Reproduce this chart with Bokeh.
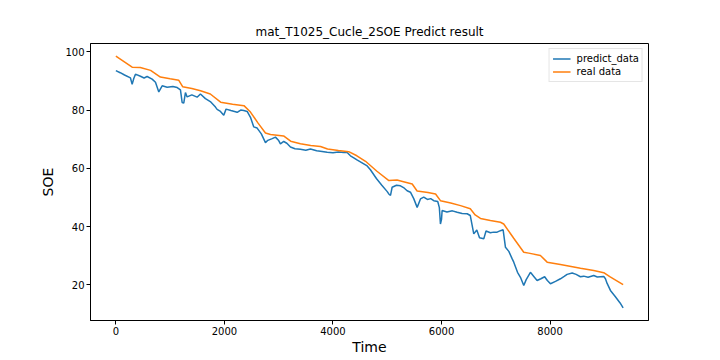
from bokeh.plotting import figure
from bokeh.models import Range1d, FixedTicker, Legend, LegendItem
from bokeh.embed import file_html
from bokeh.resources import INLINE

# ---- data ----
real_t = [0, 150, 300, 450, 640, 820, 1000, 1160, 1230, 1400, 1560, 1740, 1930, 2150,
          2360, 2480, 2620, 2756, 2850, 3090, 3220, 3400, 3590, 3770, 3900, 4100, 4290,
          4440, 4600, 4810, 5030, 5180, 5300, 5460, 5550, 5750, 5890, 5980, 6170, 6350,
          6530, 6620, 6717, 6900, 7085, 7146, 7330, 7515, 7607, 7822, 7946, 8190, 8314,
          8560, 8804, 8989, 9100, 9230, 9346]
real_v = [98.5, 96.6, 94.7, 94.6, 93.6, 91.3, 90.7, 90.2, 88.0, 87.4, 86.6, 85.5, 82.7, 82.0,
          81.5, 79.3, 75.5, 72.1, 71.6, 71.1, 69.3, 68.4, 67.8, 67.5, 66.6, 66.1, 65.7,
          64.3, 62.4, 59.0, 55.8, 56.0, 55.4, 54.6, 52.2, 51.7, 51.2, 48.9, 48.1, 47.2,
          46.1, 44.0, 42.8, 42.1, 41.5, 40.9, 36.0, 31.2, 30.9, 30.1, 27.8, 27.0, 26.6,
          25.7, 24.9, 24.2, 22.8, 21.4, 20.1]

pred_t = [0, 80, 160, 269, 300, 330, 361, 453, 520, 576, 668, 730, 791, 853, 945, 1050,
          1130, 1190, 1221, 1251, 1282, 1313, 1400, 1497, 1558, 1650, 1740, 1835, 1866,
          1927, 1988, 2030, 2120, 2235, 2300, 2357, 2419, 2480, 2541, 2603, 2680, 2756,
          2800, 2880, 2940, 3000, 3032, 3093, 3150, 3217, 3300, 3400, 3500, 3585, 3700,
          3800, 3893, 4000, 4100, 4200, 4261, 4322, 4383, 4450, 4567, 4630, 4690, 4800,
          4900, 5000, 5028, 5060, 5090, 5170, 5243, 5300, 5366, 5427, 5488, 5551, 5612,
          5672, 5740, 5800, 5857, 5930, 5960, 5980, 6000, 6011, 6100, 6200, 6288, 6380,
          6472, 6530, 6594, 6650, 6700, 6778, 6820, 6900, 6960, 7024, 7085, 7135, 7178,
          7240, 7300, 7331, 7400, 7454, 7515, 7560, 7638, 7700, 7761, 7830, 7900, 7950,
          8007, 8100, 8191, 8260, 8314, 8407, 8480, 8559, 8620, 8700, 8804, 8870, 8928,
          8989, 9020, 9051, 9112, 9200, 9290, 9346]
pred_v = [93.5, 92.8, 92.0, 91.0, 88.8, 90.8, 92.3, 91.6, 91.0, 91.5, 90.6, 89.5, 86.2, 88.3,
          87.8, 88.1, 87.7, 86.9, 82.6, 82.4, 86.0, 84.5, 85.2, 84.4, 85.5, 83.9, 82.9,
          81.0, 80.2, 79.5, 78.2, 80.3, 79.8, 79.2, 80.0, 79.8, 79.5, 77.5, 74.2, 73.8,
          71.8, 68.8, 69.6, 70.2, 70.7, 69.5, 68.4, 69.2, 68.6, 67.3, 66.7, 66.5, 66.2,
          66.6, 66.0, 65.8, 65.5, 65.3, 65.6, 65.4, 65.4, 64.3, 63.6, 62.8, 61.5, 60.8,
          59.5, 56.5, 54.2, 52.0, 51.2, 50.7, 53.5, 54.2, 54.0, 53.4, 52.3, 51.8, 49.6,
          46.6, 49.5, 50.1, 49.3, 49.6, 48.9, 48.6, 46.5, 40.9, 42.5, 45.5, 45.0, 45.4,
          44.9, 44.5, 44.4, 43.8, 37.5, 38.8, 36.2, 35.8, 38.5, 37.9, 38.1, 38.1, 38.6,
          38.9, 32.9, 31.5, 29.0, 27.8, 24.3, 22.6, 19.8, 21.8, 24.3, 22.9, 21.5, 22.1,
          22.8, 21.5, 20.4, 21.2, 22.1, 22.9, 23.6, 24.1, 23.6, 22.8, 23.0, 22.6, 23.2,
          22.7, 22.8, 22.9, 22.1, 20.5, 18.1, 16.0, 13.8, 12.1]

x_ticks = [0, 2000, 4000, 6000, 8000]
y_ticks = [20, 40, 60, 80, 100]

title_text = "mat_T1025_Cucle_2SOE Predict result"
x_label = "Time"
y_label = "SOE"
series_names = ["predict_data", "real data"]

# ---- ranges with matplotlib-like 5% margins ----
xmin, xmax = min(real_t + pred_t), max(real_t + pred_t)
ymin, ymax = min(real_v + pred_v), max(real_v + pred_v)
xm = (xmax - xmin) * 0.05
ym = (ymax - ymin) * 0.05

FONT = "DejaVu Sans"

p = figure(width=720, height=360, output_backend="svg", toolbar_location=None,
           x_range=Range1d(xmin - xm, xmax + xm), y_range=Range1d(ymin - ym, ymax + ym),
           min_border_left=90, min_border_right=72, min_border_top=43, min_border_bottom=40)

p.title.text = title_text
p.title.align = "center"
p.title.text_font = FONT
p.title.text_font_size = "12px"
p.title.text_font_style = "normal"
p.title.text_color = "black"

p.xgrid.visible = False
p.ygrid.visible = False
p.outline_line_color = "black"
p.outline_line_width = 1
p.background_fill_color = "white"
p.border_fill_color = "white"

for ax in (p.xaxis[0], p.yaxis[0]):
    ax.minor_tick_line_color = None
    ax.major_tick_in = 0
    ax.major_tick_out = 4
    ax.major_tick_line_color = "black"
    ax.axis_line_color = "black"
    ax.major_label_text_font = FONT
    ax.major_label_text_font_size = "10px"
    ax.major_label_text_color = "black"
    ax.major_label_standoff = 2
    ax.axis_label_text_font = FONT
    ax.axis_label_text_font_size = "14px"
    ax.axis_label_text_font_style = "normal"
    ax.axis_label_text_color = "black"
    ax.axis_label_standoff = 1

p.xaxis[0].ticker = FixedTicker(ticks=x_ticks)
p.yaxis[0].ticker = FixedTicker(ticks=y_ticks)
p.xaxis[0].axis_label = x_label
p.yaxis[0].axis_label = y_label
p.yaxis[0].axis_label_standoff = 6

r1 = p.line(pred_t, pred_v, line_color="#1f77b4", line_width=1.5)
r2 = p.line(real_t, real_v, line_color="#ff7f0e", line_width=1.5)

legend = Legend(items=[LegendItem(label=series_names[0], renderers=[r1]),
                       LegendItem(label=series_names[1], renderers=[r2])],
                location="top_right")
legend.label_text_font = FONT
legend.label_text_font_size = "10px"
legend.label_text_color = "black"
legend.border_line_color = "#cccccc"
legend.border_line_width = 1
legend.padding = 3
legend.spacing = 0
legend.margin = 5
legend.glyph_width = 18
legend.glyph_height = 13
legend.label_height = 13
legend.label_standoff = 6
legend.background_fill_alpha = 0.8
p.add_layout(legend)

open("out.html", "w").write(file_html(p, INLINE))
